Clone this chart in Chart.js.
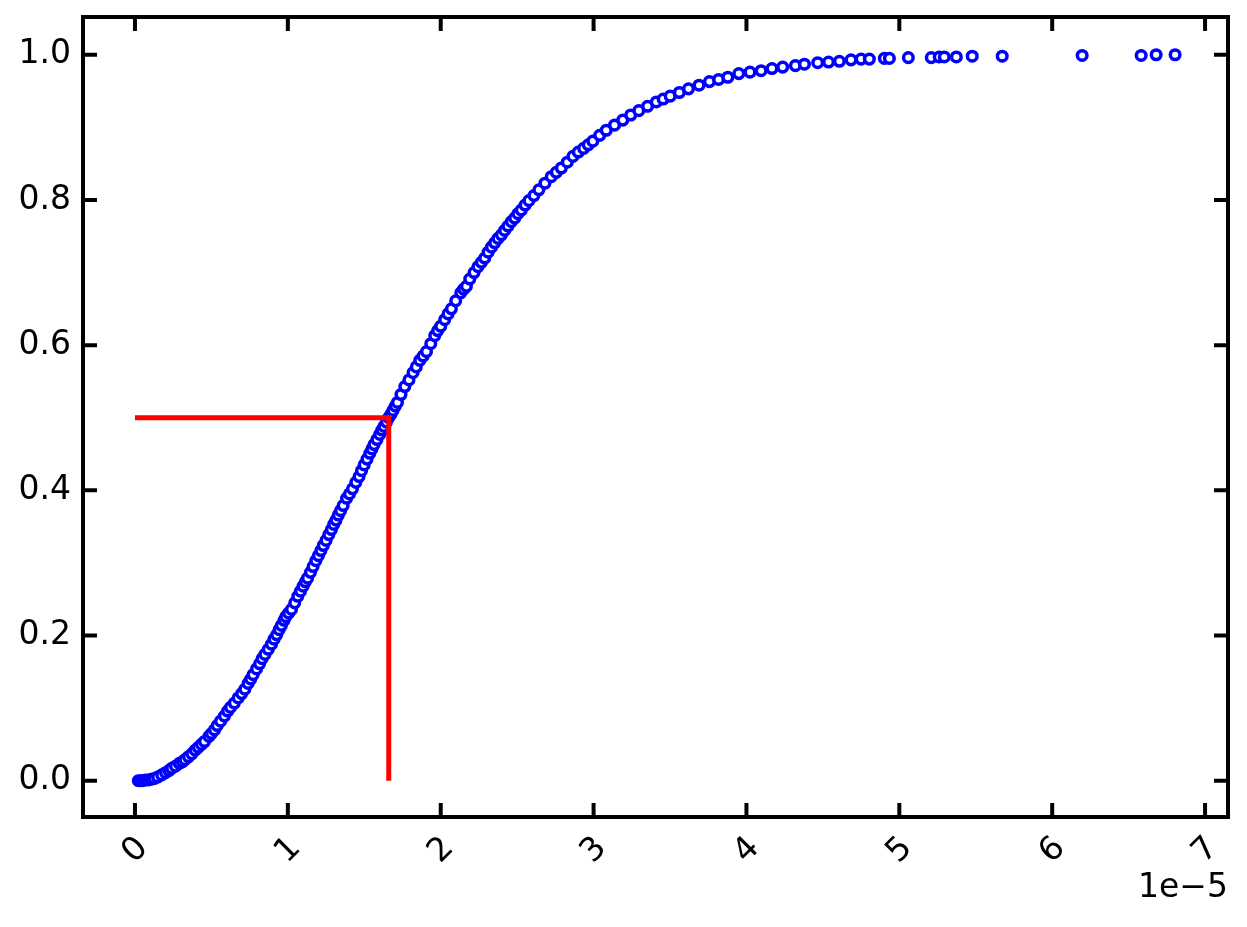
<!DOCTYPE html>
<html>
<head>
<meta charset="utf-8">
<script src="https://cdn.jsdelivr.net/npm/chart.js@4.4.1/dist/chart.umd.min.js"></script>
<style>
  html, body { margin: 0; padding: 0; background: #fff; }
  #wrap { width: 1247px; height: 927px; }
</style>
</head>
<body>
<div id="wrap"><canvas id="cdf-chart" width="1247" height="927"></canvas></div>
<script>
const ecdfPoints = [
    [0.022,0.000],[0.035,0.000],[0.050,0.000],[0.068,0.001],[0.087,0.001],[0.105,0.002],[0.125,0.003],
    [0.148,0.005],[0.175,0.008],[0.200,0.011],[0.222,0.014],[0.240,0.017],[0.265,0.020],[0.290,0.024],
    [0.310,0.026],[0.327,0.029],[0.350,0.033],[0.372,0.037],[0.394,0.042],[0.414,0.046],[0.435,0.050],
    [0.455,0.054],[0.484,0.061],[0.500,0.065],[0.520,0.070],[0.538,0.076],[0.560,0.082],[0.585,0.089],
    [0.606,0.096],[0.625,0.101],[0.650,0.107],[0.675,0.114],[0.698,0.120],[0.719,0.126],[0.740,0.134],
    [0.757,0.140],[0.773,0.146],[0.795,0.154],[0.815,0.161],[0.832,0.168],[0.850,0.174],[0.872,0.181],
    [0.893,0.188],[0.910,0.195],[0.927,0.201],[0.943,0.208],[0.958,0.214],[0.975,0.221],[0.987,0.226],
    [1.005,0.231],[1.024,0.236],[1.045,0.245],[1.065,0.254],[1.083,0.261],[1.100,0.268],[1.115,0.274],
    [1.129,0.279],[1.148,0.287],[1.165,0.295],[1.183,0.303],[1.200,0.310],[1.216,0.317],[1.232,0.324],
    [1.250,0.331],[1.268,0.339],[1.285,0.346],[1.300,0.353],[1.315,0.359],[1.330,0.366],[1.345,0.372],
    [1.362,0.379],[1.384,0.389],[1.403,0.395],[1.423,0.402],[1.445,0.411],[1.466,0.419],[1.482,0.427],
    [1.499,0.435],[1.518,0.443],[1.536,0.451],[1.550,0.457],[1.564,0.463],[1.583,0.470],[1.601,0.477],
    [1.615,0.483],[1.629,0.488],[1.645,0.494],[1.660,0.500],[1.675,0.505],[1.688,0.510],[1.703,0.516],
    [1.717,0.521],[1.740,0.532],[1.765,0.543],[1.792,0.552],[1.819,0.562],[1.840,0.570],[1.863,0.579],
    [1.885,0.585],[1.907,0.591],[1.935,0.602],[1.961,0.613],[1.980,0.620],[2.000,0.626],[2.026,0.635],
    [2.048,0.643],[2.070,0.650],[2.098,0.661],[2.131,0.672],[2.150,0.677],[2.168,0.681],[2.190,0.691],
    [2.218,0.700],[2.244,0.708],[2.266,0.714],[2.288,0.720],[2.310,0.728],[2.332,0.735],[2.353,0.741],
    [2.375,0.747],[2.397,0.752],[2.418,0.758],[2.440,0.764],[2.462,0.770],[2.484,0.775],[2.505,0.781],
    [2.527,0.786],[2.552,0.793],[2.577,0.799],[2.610,0.806],[2.642,0.814],[2.682,0.823],[2.723,0.832],
    [2.756,0.838],[2.789,0.844],[2.828,0.852],[2.865,0.860],[2.900,0.866],[2.935,0.871],[2.965,0.876],
    [2.995,0.881],[3.040,0.889],[3.083,0.896],[3.137,0.903],[3.191,0.910],[3.243,0.917],[3.296,0.923],
    [3.353,0.929],[3.410,0.935],[3.455,0.939],[3.501,0.943],[3.561,0.948],[3.621,0.953],[3.690,0.958],
    [3.758,0.963],[3.818,0.966],[3.878,0.969],[3.950,0.974],[4.023,0.976],[4.096,0.978],[4.167,0.981],
    [4.237,0.983],[4.320,0.985],[4.379,0.987],[4.466,0.989],[4.537,0.990],[4.608,0.991],[4.684,0.993],
    [4.750,0.994],[4.804,0.994],[4.902,0.995],[4.935,0.995],[5.059,0.996],[5.209,0.996],[5.261,0.997],
    [5.294,0.997],[5.373,0.997],[5.477,0.998],[5.673,0.998],[6.196,0.999],[6.582,0.999],[6.680,1.000],
    [6.804,1.000]
];

// median marker
const medianX = 1.66;
const medianY = 0.5;

const xTicks = [0, 1, 2, 3, 4, 5, 6, 7];
const yTicks = [0.0, 0.2, 0.4, 0.6, 0.8, 1.0];
const xOffsetLabel = '1e\u22125';

const TICK_FONT = { family: 'DejaVu Sans', size: 33 };

// inward ticks on all four sides + thick frame (matplotlib look)
const frameTicks = {
    id: 'frameTicks',
    afterDatasetsDraw(chart) {
        const { ctx, chartArea: a, scales } = chart;
        const len = 14;
        ctx.save();
        ctx.strokeStyle = '#000';
        ctx.lineWidth = 4;
        ctx.lineCap = 'butt';
        ctx.beginPath();
        xTicks.forEach(v => {
            const px = scales.x.getPixelForValue(v);
            ctx.moveTo(px, a.bottom); ctx.lineTo(px, a.bottom - len);
            ctx.moveTo(px, a.top); ctx.lineTo(px, a.top + len);
        });
        yTicks.forEach(v => {
            const py = scales.y.getPixelForValue(v);
            ctx.moveTo(a.left, py); ctx.lineTo(a.left + len, py);
            ctx.moveTo(a.right, py); ctx.lineTo(a.right - len, py);
        });
        ctx.stroke();
        ctx.strokeRect(a.left, a.top, a.right - a.left, a.bottom - a.top);
        ctx.restore();
    }
};

const ctx = document.getElementById('cdf-chart').getContext('2d');
const chart = new Chart(ctx, {
    type: 'scatter',
    data: {
        datasets: [
            {
                label: 'median',
                data: [{ x: 0, y: medianY }, { x: medianX, y: medianY }, { x: medianX, y: 0 }],
                showLine: true,
                borderColor: '#ff0000',
                borderWidth: 5,
                borderJoinStyle: 'miter',
                pointRadius: 0,
                fill: false,
                order: 0
            },
            {
                label: 'ECDF',
                data: ecdfPoints.map(p => ({ x: p[0], y: p[1] })),
                pointStyle: 'circle',
                pointRadius: 4.8,
                pointBorderWidth: 3.5,
                pointBorderColor: '#0000ff',
                pointBackgroundColor: '#ffffff',
                borderColor: '#0000ff',
                backgroundColor: '#ffffff',
                order: 1
            }
        ]
    },
    options: {
        responsive: false,
        animation: false,
        layout: { padding: { left: 0, top: 17, right: 19, bottom: 0 } },
        plugins: {
            legend: { display: false },
            tooltip: { enabled: false }
        },
        scales: {
            x: {
                type: 'linear',
                min: -0.34,
                max: 7.15,
                grid: { display: false, drawTicks: false },
                border: { display: false },
                afterBuildTicks: s => { s.ticks = xTicks.map(v => ({ value: v })); },
                afterFit: s => { s.height = 110; s.paddingLeft = 0; s.paddingRight = 0; },
                ticks: {
                    minRotation: 45,
                    maxRotation: 45,
                    padding: 12,
                    labelOffset: 8,
                    color: '#000',
                    font: TICK_FONT,
                    callback: v => String(v)
                },
                title: {
                    display: true,
                    text: xOffsetLabel,
                    align: 'end',
                    color: '#000',
                    font: TICK_FONT,
                    padding: { top: 0, bottom: 19 }
                }
            },
            y: {
                type: 'linear',
                min: -0.05,
                max: 1.052,
                grid: { display: false, drawTicks: false },
                border: { display: false },
                afterBuildTicks: s => { s.ticks = yTicks.map(v => ({ value: v })); },
                afterFit: s => { s.width = 83; s.paddingTop = 0; s.paddingBottom = 0; },
                ticks: {
                    padding: 12,
                    color: '#000',
                    font: TICK_FONT,
                    callback: v => v.toFixed(1)
                }
            }
        }
    },
    plugins: [frameTicks]
});
</script>
</body>
</html>
